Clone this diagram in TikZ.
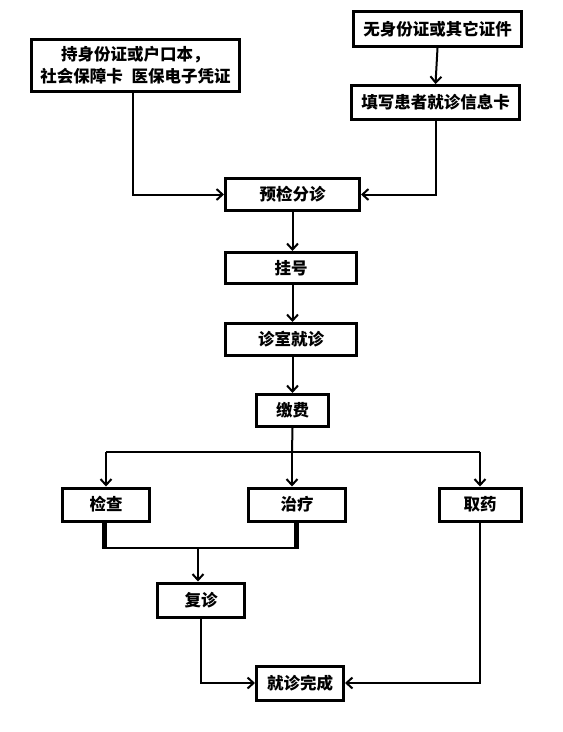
\documentclass[tikz,border=0pt]{standalone}
\usepackage{fontspec}
\setmainfont{Noto Sans CJK SC}
\usepackage{tikz}
\usetikzlibrary{arrows.meta,calc}

\begin{document}
\begin{tikzpicture}[x=1pt,y=-1pt,
                box/.style={rectangle, draw, line width=3pt, inner sep=0pt, align=center,
                            font=\bfseries\fontsize{16.5}{22}\selectfont},
                line/.style={line width=2pt},
                arr/.style={line width=2pt, -{Straight Barb[length=6pt,width=11pt,line width=2pt]}}]
                \fill[white] (0,0) rectangle (563,732);
                \useasboundingbox (0,0) rectangle (563,732);
                % top part
                \node [box, minimum width=208pt, minimum height=52pt] (card) at (135.5,65.5)
                    {持身份证或户口本，\\社会保障卡\hspace{5pt} 医保电子凭证};
                \node [box, minimum width=168pt, minimum height=35pt] (noid) at (437.5,29) {无身份证或其它证件};
                \node [box, minimum width=168pt, minimum height=34pt] (fill) at (435.5,102.5) {填写患者就诊信息卡};
                \node [box, minimum width=134pt, minimum height=32pt] (triage) at (292.5,194.5) {预检分诊};
                \node [box, minimum width=131pt, minimum height=31pt] (reg) at (291,268) {挂号};
                \node [box, minimum width=131pt, minimum height=32pt] (visit) at (291,339.5) {诊室就诊};
                \node [box, minimum width=72pt, minimum height=32pt] (pay) at (292.5,410.5) {缴费};
                % three branches
                \node [box, minimum width=87pt, minimum height=33pt] (exam) at (106,504.5) {检查};
                \node [box, minimum width=97pt, minimum height=33pt] (treat) at (297,504.5) {治疗};
                \node [box, minimum width=82pt, minimum height=33pt] (drug) at (480,504.5) {取药};
                \node [box, minimum width=87pt, minimum height=34pt] (revisit) at (201,600) {复诊};
                \node [box, minimum width=87pt, minimum height=34pt] (done) at (300,683) {就诊完成};
                % helper points
                \coordinate (split) at (292,452);
                \coordinate (merge) at (198,548);
                % connectors
                \draw [arr] ([xshift=-2.5pt]card.south) |- (triage.west);
                \draw [arr] (noid.south) -- (fill.north);
                \draw [arr] (fill.south) |- (triage.east);
                \draw [arr] (triage.south) -- (reg.north -| triage.south);
                \draw [arr] (reg.south -| triage.south) -- (visit.north -| triage.south);
                \draw [arr] (visit.south -| triage.south) -- (pay.north -| triage.south);
                \draw [line] (pay.south -| triage.south) -- (split);
                \draw [line] (exam.north |- split) -- (drug.north |- split);
                \draw [arr] (exam.north |- split) -- (exam.north);
                \draw [arr] (split) -- (treat.north -| split);
                \draw [arr] (drug.north |- split) -- (drug.north);
                \draw [line width=5pt] ([xshift=-2pt]exam.south) -- ([xshift=-2pt]exam.south |- merge);
                \draw [line width=5pt] ([xshift=-1pt]treat.south) -- ([xshift=-1pt]treat.south |- merge);
                \draw [line] ([xshift=-4.5pt]exam.south |- merge) -- ([xshift=1.5pt]treat.south |- merge);
                \draw [arr] (merge) -- (revisit.north -| merge);
                \draw [arr] (revisit.south) |- (done.west);
                \draw [arr] (drug.south) |- (done.east);
\end{tikzpicture}
\end{document}
